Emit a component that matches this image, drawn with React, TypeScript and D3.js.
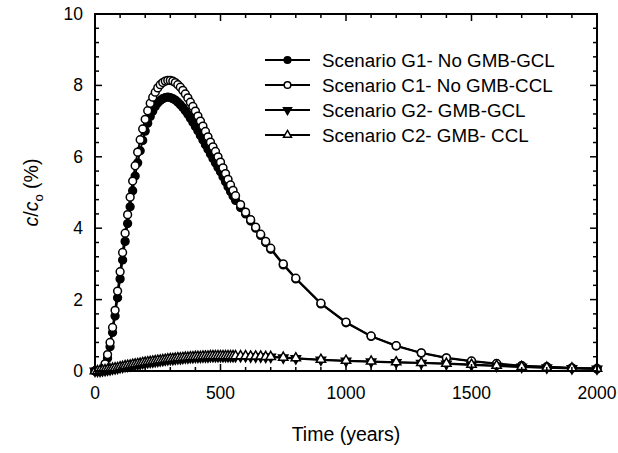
import React from "react";
import * as d3 from "d3";

const years = [
  0, 10, 20, 30, 40, 50, 60, 70, 80, 90, 100, 110, 120, 130, 140, 150, 160, 170, 180, 190,
  200, 210, 220, 230, 240, 250, 260, 270, 280, 290, 300, 310, 320, 330, 340, 350, 360, 370, 380, 390,
  400, 410, 420, 430, 440, 450, 460, 470, 480, 490, 500, 510, 520, 530, 540, 550, 560,
  580, 600, 620, 640, 660, 680, 700, 750, 800,
  900, 1000, 1100, 1200, 1300, 1400, 1500, 1600, 1700, 1800, 1900, 2000,
];

const g1NoGmbGcl = [
  0, 0, 0, 0.03, 0.13, 0.36, 0.68, 1.08, 1.54, 2.05, 2.58, 3.11, 3.63, 4.13, 4.6, 5.05, 5.46, 5.83, 6.17, 6.46,
  6.72, 6.94, 7.13, 7.28, 7.41, 7.51, 7.58, 7.63, 7.66, 7.67, 7.66, 7.63, 7.59, 7.53, 7.46, 7.38, 7.29, 7.19, 7.08, 6.97,
  6.85, 6.73, 6.6, 6.47, 6.34, 6.21, 6.08, 5.95, 5.83, 5.7, 5.58, 5.44, 5.3, 5.16, 5.03, 4.9, 4.78,
  4.58, 4.4, 4.2, 4.0, 3.8, 3.6, 3.41, 2.97, 2.58,
  1.88, 1.35, 0.97, 0.7, 0.5, 0.36, 0.27, 0.2, 0.14, 0.11, 0.08, 0.06,
];

const c1NoGmbCcl = [
  0, 0, 0.01, 0.06, 0.2, 0.46, 0.8, 1.22, 1.7, 2.24, 2.78, 3.32, 3.86, 4.38, 4.87, 5.32, 5.75, 6.13, 6.48, 6.78,
  7.05, 7.29, 7.5, 7.67, 7.81, 7.93, 8.02, 8.08, 8.12, 8.14, 8.14, 8.12, 8.08, 8.02, 7.95, 7.86, 7.76, 7.65, 7.53, 7.41,
  7.28, 7.14, 7.0, 6.86, 6.71, 6.56, 6.41, 6.28, 6.15, 6.0, 5.85, 5.69, 5.53, 5.37, 5.21, 5.06, 4.91,
  4.66, 4.45, 4.24, 4.03, 3.83, 3.63, 3.44, 3.0, 2.6,
  1.9, 1.37, 0.98, 0.71, 0.51, 0.37, 0.28, 0.21, 0.15, 0.12, 0.09, 0.07,
];

const g2GmbGcl = [
  0, 0, 0, 0.01, 0.02, 0.03, 0.04, 0.06, 0.07, 0.08, 0.1, 0.11, 0.13, 0.14, 0.15, 0.17, 0.18, 0.19, 0.2, 0.22,
  0.23, 0.24, 0.25, 0.26, 0.27, 0.28, 0.29, 0.3, 0.31, 0.32, 0.33, 0.33, 0.34, 0.35, 0.35, 0.36, 0.37, 0.37, 0.38, 0.38,
  0.39, 0.39, 0.39, 0.4, 0.4, 0.4, 0.41, 0.41, 0.41, 0.41, 0.41, 0.41, 0.41, 0.41, 0.41, 0.41, 0.41,
  0.41, 0.41, 0.4, 0.4, 0.4, 0.39, 0.39, 0.37, 0.35,
  0.31, 0.28, 0.26, 0.24, 0.22, 0.2, 0.17, 0.14, 0.11, 0.09, 0.07, 0.06,
];

const c2GmbCcl = [
  0, 0, 0.01, 0.02, 0.03, 0.04, 0.05, 0.07, 0.08, 0.09, 0.11, 0.12, 0.14, 0.15, 0.16, 0.18, 0.19, 0.2, 0.21, 0.23,
  0.24, 0.25, 0.26, 0.27, 0.28, 0.29, 0.3, 0.31, 0.32, 0.33, 0.34, 0.34, 0.35, 0.36, 0.36, 0.37, 0.38, 0.38, 0.39, 0.39,
  0.4, 0.4, 0.4, 0.41, 0.41, 0.41, 0.42, 0.42, 0.42, 0.42, 0.42, 0.42, 0.42, 0.42, 0.42, 0.42, 0.42,
  0.42, 0.42, 0.41, 0.41, 0.41, 0.4, 0.4, 0.38, 0.36,
  0.32, 0.29, 0.27, 0.25, 0.23, 0.21, 0.18, 0.15, 0.12, 0.1, 0.08, 0.07,
];

const seriesNames = [
  "Scenario G1- No GMB-GCL",
  "Scenario C1- No GMB-CCL",
  "Scenario G2- GMB-GCL",
  "Scenario C2- GMB- CCL",
];
const seriesMarkers = ["circleFilled", "circleOpen", "triDownFilled", "triUpOpen"];

const xTickLabels = [0, 500, 1000, 1500, 2000];
const yTickLabels = [0, 2, 4, 6, 8, 10];

const FONT = "'Liberation Sans', Arial, Helvetica, sans-serif";

function Marker({ kind, x, y, scale = 1 }: { kind: string; x: number; y: number; scale?: number }) {
  if (kind === "circleFilled" || kind === "circleOpen") {
    return (
      <circle
        cx={x}
        cy={y}
        r={3.9 * scale}
        fill={kind === "circleFilled" ? "#000" : "#fff"}
        stroke="#000"
        strokeWidth={1.5}
      />
    );
  }
  const path = d3.symbol().type(d3.symbolTriangle).size(38 * scale * scale)() as string;
  const down = kind === "triDownFilled";
  return (
    <path
      d={path}
      transform={`translate(${x},${y}) rotate(${down ? 180 : 0})`}
      fill={down ? "#000" : "#fff"}
      stroke="#000"
      strokeWidth={1.5}
    />
  );
}

export default function App() {
  const W = 618;
  const H = 453;
  const left = 95;
  const right = 597;
  const top = 14;
  const bottom = 371;

  const x = d3.scaleLinear().domain([0, 2000]).range([left, right]);
  const y = d3.scaleLinear().domain([0, 10]).range([bottom, top]);

  const allSeries = [g1NoGmbGcl, c1NoGmbCcl, g2GmbGcl, c2GmbCcl];

  const line = d3
    .line<number>()
    .x((_, i) => x(years[i]))
    .y((v) => y(v));

  const xMinor = d3.range(0, 2001, 100);
  const yMinor = d3.range(0, 10.001, 0.4);

  const legendX0 = 265;
  const legendX1 = 310;
  const legendY0 = 60;
  const legendDy = 25;

  return (
    <svg
      width={W}
      height={H}
      style={{ position: "absolute", left: 0, top: 0, background: "#fff" }}
      fontFamily={FONT}
    >
      <rect x={0} y={0} width={W} height={H} fill="#fff" />

      {allSeries.map((vals, si) => (
        <g key={si}>
          <path d={line(vals) as string} fill="none" stroke="#000" strokeWidth={1.9} />
          {vals.map((v, i) => (
            <Marker key={i} kind={seriesMarkers[si]} x={x(years[i])} y={y(v)} />
          ))}
        </g>
      ))}

      <rect x={left} y={top} width={right - left} height={bottom - top} fill="none" stroke="#000" strokeWidth={2} />

      {xMinor.map((t) => {
        const major = t % 500 === 0;
        const len = major ? 7 : 4;
        return (
          <g key={"xt" + t}>
            <line x1={x(t)} x2={x(t)} y1={bottom} y2={bottom - len} stroke="#000" strokeWidth={1.5} />
            <line x1={x(t)} x2={x(t)} y1={top} y2={top + len} stroke="#000" strokeWidth={1.5} />
          </g>
        );
      })}
      {yMinor.map((t, i) => {
        const major = i % 5 === 0;
        const len = major ? 7 : 4;
        return (
          <g key={"yt" + i}>
            <line x1={left} x2={left + len} y1={y(t)} y2={y(t)} stroke="#000" strokeWidth={1.5} />
            <line x1={right} x2={right - len} y1={y(t)} y2={y(t)} stroke="#000" strokeWidth={1.5} />
          </g>
        );
      })}

      {xTickLabels.map((t) => (
        <text key={"xl" + t} x={x(t)} y={399} textAnchor="middle" fontSize={17.5} fill="#000">
          {t}
        </text>
      ))}
      {yTickLabels.map((t) => (
        <text key={"yl" + t} x={83} y={y(t) + 6} textAnchor="end" fontSize={17.5} fill="#000">
          {t}
        </text>
      ))}

      <text x={(left + right) / 2} y={441} textAnchor="middle" fontSize={19.5} fill="#000">
        Time (years)
      </text>
      <text
        transform={`translate(38, ${(top + bottom) / 2}) rotate(-90)`}
        textAnchor="middle"
        fontSize={19.5}
        fill="#000"
      >
        <tspan fontStyle="italic">c</tspan>
        <tspan>/</tspan>
        <tspan fontStyle="italic">c</tspan>
        <tspan fontSize={13} dy={5}>o</tspan>
        <tspan dy={-5}> (%)</tspan>
      </text>

      {seriesNames.map((name, i) => {
        const ly = legendY0 + i * legendDy;
        return (
          <g key={"lg" + i}>
            <line x1={legendX0} x2={legendX1} y1={ly} y2={ly} stroke="#000" strokeWidth={1.8} />
            <Marker kind={seriesMarkers[i]} x={(legendX0 + legendX1) / 2} y={ly} scale={0.85} />
            <text x={322} y={ly + 6.5} fontSize={18.8} fill="#000">
              {name}
            </text>
          </g>
        );
      })}
    </svg>
  );
}
